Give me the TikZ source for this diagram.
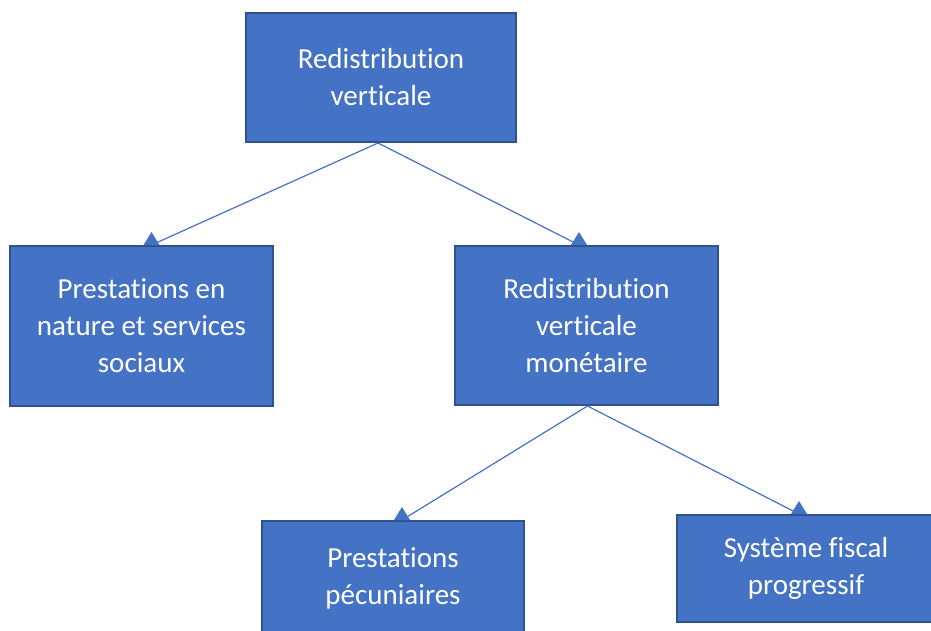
\documentclass[tikz,border=0pt]{standalone}
\usepackage{fontspec}
\setmainfont[Ligatures=NoCommon]{Carlito}
\usetikzlibrary{positioning}

\definecolor{boxblue}{HTML}{4472C4}
\definecolor{edgeblue}{HTML}{2F528F}

\tikzset{
  box/.style={rectangle, draw=edgeblue, line width=2pt, fill=boxblue,
    text=white, align=center, inner sep=0pt,
    font=\fontsize{29}{37}\selectfont},
  link/.style={draw=boxblue, line width=1.2pt}
}

\begin{document}
\begin{tikzpicture}[x=1pt, y=-1pt]
  \useasboundingbox (0,0) rectangle (931,631);
  \node[box, minimum width=270pt, minimum height=129pt] (redis) at (381,77.5) {Redistribution\\verticale};
  \node[box, minimum width=263pt, minimum height=160pt] (nature) at (141.5,326) {Prestations en\\nature et services\\sociaux};
  \node[box, minimum width=263pt, minimum height=159pt] (monet) at (586.5,325.5) {Redistribution\\verticale\\monétaire};
  \node[box, minimum width=262pt, minimum height=114pt] (pecun) at (393,578) {Prestations\\pécuniaires};
  \node[box, minimum width=258pt, minimum height=107pt] (fiscal) at (806,568.5) {Système fiscal\\progressif};

  % connectors
  \draw[link] ([xshift=-3pt]redis.south) -- ([xshift=10pt]nature.north);
  \draw[link] ([xshift=-3pt]redis.south) -- ([xshift=-7.5pt]monet.north);
  \draw[link] ([xshift=1pt]monet.south) -- ([xshift=9pt]pecun.north);
  \draw[link] ([xshift=1pt]monet.south) -- ([xshift=-7pt]fiscal.north);

  % arrow heads
  \foreach \n/\dx in {nature/10, monet/-7.5, pecun/9, fiscal/-7}
    \fill[boxblue] ([xshift=\dx pt]\n.north) ++(-8pt,0pt) -- ++(8pt,13pt) -- ++(8pt,-13pt) -- cycle;
\end{tikzpicture}
\end{document}
